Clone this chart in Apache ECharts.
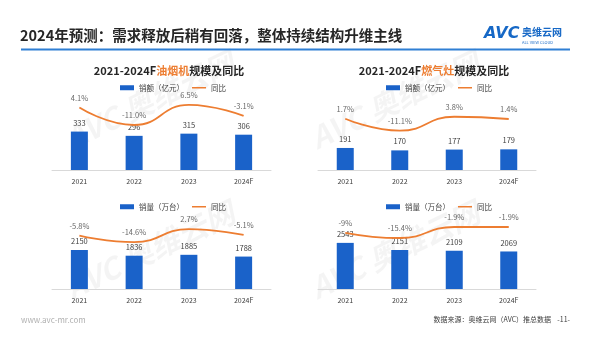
<!DOCTYPE html>
<html><head><meta charset="utf-8">
<script src="https://cdn.jsdelivr.net/npm/echarts@6/dist/echarts.min.js"></script>
<style>html,body{margin:0;padding:0;background:#fff}#c{width:600px;height:355px}</style>
</head><body><div id="c"></div>
<script>
var years = ['2021', '2022', '2023', '2024F'];
// 油烟机
var hoodSales = [333, 296, 315, 306];
var hoodSalesYoy = [4.1, -11.0, 6.5, -3.1];
var hoodSalesYoyLabels = ['4.1%', '-11.0%', '6.5%', '-3.1%'];
var hoodVolume = [2150, 1836, 1885, 1788];
var hoodVolumeYoy = [-5.8, -14.6, 2.7, -5.1];
var hoodVolumeYoyLabels = ['-5.8%', '-14.6%', '2.7%', '-5.1%'];
// 燃气灶
var stoveSales = [191, 170, 177, 179];
var stoveSalesYoy = [1.7, -11.1, 3.8, 1.4];
var stoveSalesYoyLabels = ['1.7%', '-11.1%', '3.8%', '1.4%'];
var stoveVolume = [2543, 2151, 2109, 2069];
var stoveVolumeYoy = [-9, -15.4, -1.9, -1.9];
var stoveVolumeYoyLabels = ['-9%', '-15.4%', '-1.9%', '-1.9%'];

var FONT = '"Noto Sans CJK SC", "Noto Sans", sans-serif';
var BLUE = '#1a62c9', ORANGE = '#ED7D31';
var LINE_ICON = 'path://M0,0 L0.01,0 M0,3.4 L28,3.4 L28,6.6 L0,6.6 Z M0,10 L0.01,10';

var grids = [
  {left: 52, right: 329, top: 95, bottom: 185},
  {left: 318, right: 64, top: 95, bottom: 185},
  {left: 52, right: 329, top: 215, bottom: 66},
  {left: 318, right: 64, top: 215, bottom: 66}
];
var barRanges = [[0, 650], [0, 650], [0, 4080], [0, 4080]];
var lineRanges = [[-50, 15], [-53, 27], [-77, 21.5], [-78, 12.8]];
var barData = [hoodSales, stoveSales, hoodVolume, stoveVolume];
var lineData = [hoodSalesYoy, stoveSalesYoy, hoodVolumeYoy, stoveVolumeYoy];
var lineLabels = [hoodSalesYoyLabels, stoveSalesYoyLabels, hoodVolumeYoyLabels, stoveVolumeYoyLabels];
var barNames = ['销额（亿元）', '销额（亿元）', '销量（万台）', '销量（万台）'];

var xAxes = [], yAxes = [], series = [], legends = [];
var legendCenters = [[160, 84], [426, 84], [160, 203], [426, 203]];
grids.forEach(function (g, i) {
  xAxes.push({
    type: 'category', gridIndex: i, data: years,
    axisLine: {lineStyle: {color: '#d9d9d9'}}, axisTick: {show: false},
    axisLabel: {fontSize: 7, color: '#404040', margin: 8, fontFamily: FONT}
  });
  yAxes.push({type: 'value', gridIndex: i, min: barRanges[i][0], max: barRanges[i][1], show: false});
  yAxes.push({type: 'value', gridIndex: i, min: lineRanges[i][0], max: lineRanges[i][1], show: false});
  series.push({
    name: barNames[i], type: 'bar', xAxisIndex: i, yAxisIndex: 2 * i,
    data: barData[i], barWidth: 17, itemStyle: {color: BLUE},
    label: {show: true, position: 'top', distance: 5, fontSize: 7.5, color: '#404040', fontFamily: FONT}
  });
  series.push({
    name: '同比', type: 'line', xAxisIndex: i, yAxisIndex: 2 * i + 1,
    data: lineData[i], smooth: true, symbol: 'none', z: 5,
    lineStyle: {color: ORANGE, width: 1.8}, itemStyle: {color: ORANGE}
  });
  (function (labs) {
    series.push({
      name: 'yoyLabel' + i, type: 'scatter', xAxisIndex: i, yAxisIndex: 2 * i + 1,
      data: lineData[i], symbolSize: 0, z: 6, silent: true,
      label: {show: true, position: 'top', distance: 6, fontSize: 7.5, color: '#404040', fontFamily: FONT,
        formatter: function (p) { return labs[p.dataIndex]; }}
    });
  })(lineLabels[i]);
  legends.push({
    left: legendCenters[i][0] - 45, top: legendCenters[i][1] - 5,
    data: [{name: barNames[i], icon: 'rect'}, {name: '同比', icon: LINE_ICON, itemStyle: {color: ORANGE}}],
    itemWidth: 14, itemHeight: 5, itemGap: 8,
    textStyle: {fontSize: 7.5, color: '#404040', fontFamily: FONT}
  });
});

var wm = [];
[[150, 100], [395, 100], [150, 250], [395, 250]].forEach(function (p) {
  wm.push({type: 'text', x: p[0], y: p[1], rotation: Math.PI / 7, z: 0, silent: true,
    style: {text: 'AVC 奥维云网', font: 'bold italic 30px ' + FONT, fill: 'rgba(0,0,0,0.045)', align: 'center', verticalAlign: 'middle'}});
});

var option = {
  animation: false,
  backgroundColor: '#fff',
  title: [
    {text: '2021-2024F{o|油烟机}规模及同比', left: 164, top: 60, textAlign: 'center',
      textStyle: {fontSize: 11, fontWeight: 'bold', color: '#262626', fontFamily: FONT,
        rich: {o: {fontSize: 11, fontWeight: 'bold', color: ORANGE, fontFamily: FONT}}}},
    {text: '2021-2024F{o|燃气灶}规模及同比', left: 429, top: 60, textAlign: 'center',
      textStyle: {fontSize: 11, fontWeight: 'bold', color: '#262626', fontFamily: FONT,
        rich: {o: {fontSize: 11, fontWeight: 'bold', color: ORANGE, fontFamily: FONT}}}}
  ],
  legend: legends,
  grid: grids,
  xAxis: xAxes,
  yAxis: yAxes,
  series: series,
  graphic: wm.concat([
    {type: 'text', left: 20, top: 28, style: {text: '2024年预测：需求释放后稍有回落，整体持续结构升维主线', font: 'bold 14.5px ' + FONT, fill: '#262626'}},
    {type: 'rect', shape: {x: 21, y: 48.5, width: 549, height: 2}, style: {fill: '#2f7fd4'}},
    {type: 'text', left: 484, top: 26, style: {text: 'AVC', font: 'italic 900 16px "DejaVu Sans", sans-serif', fill: '#1668c6'}},
    {type: 'text', left: 522, top: 27, style: {text: '奥维云网', font: 'bold 10px ' + FONT, fill: '#1668c6'}},
    {type: 'text', left: 522, top: 40, style: {text: 'ALL VIEW CLOUD', font: '4px ' + FONT, fill: '#1668c6'}},
    {type: 'text', left: 21, top: 316, style: {text: 'www.avc-mr.com', font: '8px ' + FONT, fill: '#b0b0b0'}},
    {type: 'text', right: 30, top: 316, style: {text: '数据来源：奥维云网（AVC）推总数据    -11-', font: '7px ' + FONT, fill: '#404040'}}
  ])
};
echarts.init(document.getElementById('c')).setOption(option);
</script></body></html>
